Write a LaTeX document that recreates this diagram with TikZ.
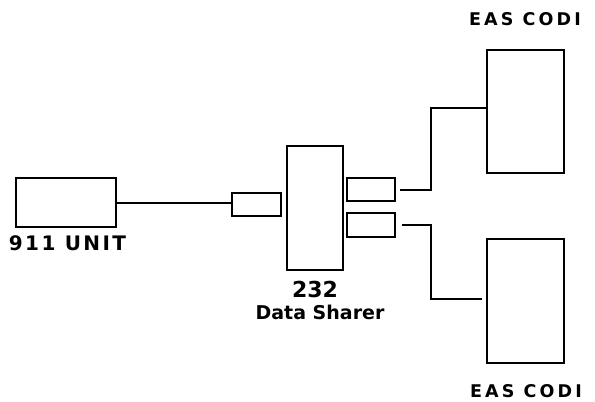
\documentclass[tikz,border=0pt]{standalone}
\usepackage{fontspec}
\newfontfamily\lblfont{DejaVu Sans Bold}
\begin{document}
\begin{tikzpicture}[x=1pt,y=-1pt,
  box/.style={draw=black,line width=2pt,fill=white,inner sep=0pt,rectangle},
  wire/.style={draw=black,line width=2pt},
  lbl/.style={inner sep=0pt,anchor=base,text=black}]
\useasboundingbox[fill=white] (0,0) rectangle (595,402);
% boxes
\node[box,minimum width=100pt,minimum height=49pt] (unit) at (66,202.5) {};
\node[box,minimum width=49pt,minimum height=23pt] (lport) at (256.5,204.5) {};
\node[box,minimum width=56pt,minimum height=124pt] (sharer) at (315,208) {};
\node[box,minimum width=48pt,minimum height=23pt] (rport1) at (371,189.5) {};
\node[box,minimum width=48pt,minimum height=24pt] (rport2) at (371,225) {};
\node[box,minimum width=77pt,minimum height=123pt] (codi1) at (525.5,111.5) {};
\node[box,minimum width=77pt,minimum height=124pt] (codi2) at (525.5,301) {};
% labels
\node[lbl] (unitlbl) at (67.5,250) {\lblfont\addfontfeature{LetterSpace=12}\fontsize{20}{20}\selectfont 911 UNIT};
\node[lbl] (codi1lbl) at (525,25) {\lblfont\addfontfeature{LetterSpace=18}\fontsize{17.5}{17.5}\selectfont EAS CODI};
\node[lbl] (codi2lbl) at (526,397) {\lblfont\addfontfeature{LetterSpace=18}\fontsize{17.5}{17.5}\selectfont EAS CODI};
\node[lbl] (num) at (315,297) {\lblfont\fontsize{22}{22}\selectfont 232};
\node[lbl] (dslbl) at (320,319) {\lblfont\fontsize{19}{19}\selectfont Data Sharer};
% wires
\coordinate (j1) at (431,108);
\coordinate (j2) at (431,299);
\draw[wire] (unit.east) -- (unit.east -| lport.west);
\draw[wire,shorten <=4pt] (rport1.east) -| (j1) -- (j1 -| codi1.west);
\draw[wire,shorten <=6pt,shorten >=4pt] (rport2.east) -| (j2) -- (j2 -| codi2.west);
\end{tikzpicture}
\end{document}
